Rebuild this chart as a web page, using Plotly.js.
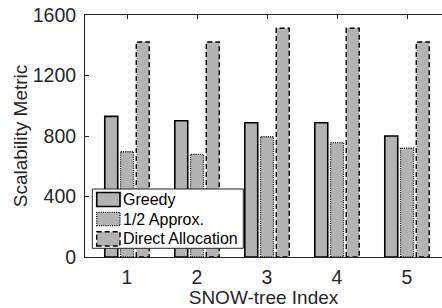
<!DOCTYPE html>
<html>
<head>
<meta charset="utf-8">
<script src="https://cdn.plot.ly/plotly-3.0.1.min.js"></script>
<style>html,body{margin:0;padding:0;background:#fff;}#chart{width:442px;height:308px;}</style>
</head>
<body>
<div id="chart"></div>
<script>
const groups = [1, 2, 3, 4, 5];
const tickLabels = ['1', '2', '3', '4', '5'];
const greedy = [930, 901, 888, 888, 800];
const approx = [696, 679, 795, 756, 719];
const direct = [1421, 1421, 1512, 1512, 1421];
const seriesNames = ['Greedy', '1/2 Approx.', 'Direct Allocation'];
const seriesValues = [greedy, approx, direct];
const seriesDash = ['solid', '1px,1.2px', '5px,3px'];

const slot = 0.225, barW = 0.185;
const fill = '#b3b3b3';
const traces = [];
const outlines = [];
seriesValues.forEach((vals, k) => {
  const c = (k - 1) * slot;
  traces.push({
    type: 'bar', x: groups, y: vals, name: seriesNames[k],
    width: groups.map(() => barW), offset: groups.map(() => c - barW / 2),
    marker: {color: fill, line: {width: 0}}, showlegend: false, hoverinfo: 'skip'
  });
  const xs = [], ys = [];
  groups.forEach((g, i) => {
    const x0 = g + c - barW / 2, x1 = g + c + barW / 2, v = vals[i];
    xs.push(x0, x0, x1, x1, x0, null);
    ys.push(0, v, v, 0, 0, null);
  });
  outlines.push({
    type: 'scatter', mode: 'lines', x: xs, y: ys, showlegend: false, hoverinfo: 'skip',
    line: {color: '#000', width: k === 0 ? 1.6 : (k === 1 ? 1.3 : 1.4), dash: seriesDash[k]}
  });
});

// custom legend (paper coords: plot spans x 85..442, y 15..257)
const L = 85, W = 357, T = 15, H = 242;
const px = v => (v - L) / W, py = v => (257 - v) / H;
const shapes = [{
  type: 'rect', xref: 'paper', yref: 'paper', layer: 'above',
  x0: px(92.3), x1: px(243.3), y0: py(248.3), y1: py(189),
  fillcolor: '#fff', line: {color: '#262626', width: 1}
}];
const annotations = [];
const sw = [[192.5, 206.5], [212.3, 225.7], [231.7, 246]];
seriesNames.forEach((n, k) => {
  shapes.push({
    type: 'rect', xref: 'paper', yref: 'paper', layer: 'above',
    x0: px(96.7), x1: px(120), y0: py(sw[k][1]), y1: py(sw[k][0]),
    fillcolor: fill, line: {color: '#000', width: k === 0 ? 1.6 : (k === 1 ? 1.3 : 1.4), dash: seriesDash[k]}
  });
  annotations.push({
    xref: 'paper', yref: 'paper', x: px(121), y: py((sw[k][0] + sw[k][1]) / 2),
    xanchor: 'left', yanchor: 'middle', showarrow: false, text: n,
    font: {family: 'Liberation Sans, Arial, sans-serif', size: 16, color: '#000'}
  });
});

const layout = {
  width: 442, height: 308,
  margin: {l: 85, r: 0, t: 15, b: 51},
  paper_bgcolor: '#fff', plot_bgcolor: '#fff',
  barmode: 'overlay',
  showlegend: false,
  font: {family: 'Liberation Sans, Arial, sans-serif', size: 19.5, color: '#262626'},
  xaxis: {
    range: [0.4, 5.5], tickvals: groups, ticktext: tickLabels,
    ticks: 'inside', ticklen: 4, tickcolor: '#262626', tickwidth: 1,
    showline: true, linecolor: '#262626', linewidth: 1, mirror: 'ticks',
    showgrid: false, zeroline: false, layer: 'below traces', ticklabelstandoff: 3,
    tickfont: {size: 19.5, color: '#262626'},
    title: {text: 'SNOW-tree Index', font: {size: 19, color: '#262626'}, standoff: 4}
  },
  yaxis: {
    range: [0, 1600], tickvals: [0, 400, 800, 1200, 1600],
    ticks: 'inside', ticklen: 4, tickcolor: '#262626', tickwidth: 1,
    showline: true, linecolor: '#262626', linewidth: 1, mirror: false,
    showgrid: false, zeroline: false, ticklabelstandoff: 4,
    tickfont: {size: 19.5, color: '#262626'},
    title: {text: 'Scalability Metric', font: {size: 19, color: '#262626'}, standoff: 0}
  },
  shapes: shapes,
  annotations: annotations
};

Plotly.newPlot('chart', traces.concat(outlines), layout, {displayModeBar: false, staticPlot: true});
</script>
</body>
</html>
